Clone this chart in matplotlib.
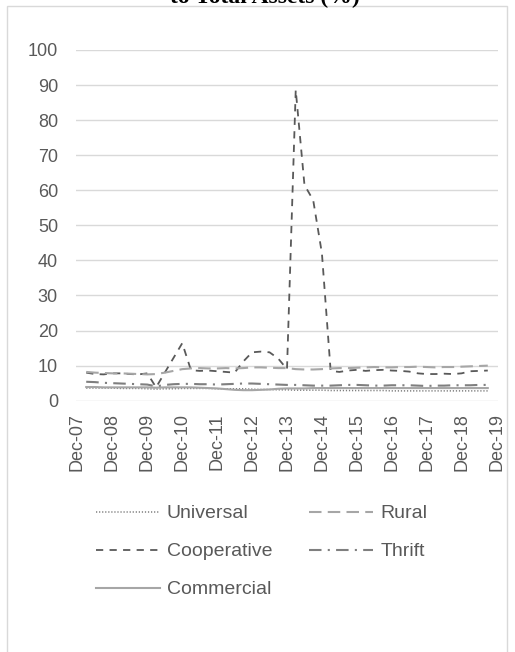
import matplotlib
matplotlib.use("Agg")
import matplotlib.pyplot as plt
from matplotlib.patches import Rectangle
import numpy as np

# Quarterly observations, Mar-08 .. Sep-19
quarters = [f"{m}-{y:02d}" for y in range(8, 20) for m in ("Mar", "Jun", "Sep", "Dec")][:47]

universal = [3.6, 3.6, 3.6, 3.6, 3.5, 3.5, 3.5, 3.4, 3.3, 3.4, 3.4, 3.5,
             3.5, 3.5, 3.5, 3.4, 3.4, 3.4, 3.4, 3.3, 3.2, 3.2, 3.1, 3.1,
             3.0, 3.0, 3.0, 3.0, 2.9, 2.9, 2.9, 2.9, 2.9, 2.9, 2.9, 2.8,
             2.8, 2.8, 2.8, 2.8, 2.8, 2.8, 2.8, 2.8, 2.8, 2.8, 2.8]
rural = [8.2, 8.0, 7.9, 7.8, 7.8, 7.7, 7.6, 7.5, 7.6, 8.0, 8.5, 9.0,
         9.2, 9.3, 9.2, 9.2, 9.3, 9.2, 9.3, 9.5, 9.5, 9.4, 9.3, 9.3,
         9.0, 8.9, 8.9, 9.0, 9.2, 9.3, 9.3, 9.4, 9.5, 9.6, 9.5, 9.5,
         9.6, 9.6, 9.7, 9.6, 9.5, 9.6, 9.6, 9.7, 9.8, 9.9, 10.0]
cooperative = [8.0, 7.6, 7.5, 7.8, 7.8, 7.6, 7.5, 7.8, 3.8, 8.0, 12.2, 16.4,
               8.7, 8.5, 8.6, 8.4, 8.2, 8.0, 11.2, 13.8, 14.0, 13.8, 12.0, 9.0,
               88.6, 61.5, 57.2, 42.0, 8.5, 8.2, 8.6, 8.8, 8.5, 8.7, 8.8, 8.6,
               8.5, 8.3, 7.8, 7.6, 7.6, 7.7, 7.6, 7.8, 8.4, 8.5, 8.6]
thrift = [5.4, 5.3, 5.1, 5.0, 4.9, 4.8, 4.7, 4.6, 4.1, 4.5, 4.7, 4.8,
          4.8, 4.7, 4.7, 4.6, 4.7, 4.8, 4.9, 4.9, 4.8, 4.7, 4.6, 4.5,
          4.5, 4.4, 4.3, 4.3, 4.3, 4.4, 4.5, 4.5, 4.4, 4.3, 4.3, 4.4,
          4.4, 4.4, 4.3, 4.2, 4.3, 4.3, 4.4, 4.4, 4.4, 4.5, 4.5]
commercial = [3.9, 3.9, 3.8, 3.8, 3.8, 3.8, 3.8, 3.8, 3.7, 3.8, 3.8, 3.8,
              3.8, 3.7, 3.6, 3.5, 3.3, 3.1, 3.0, 3.0, 3.1, 3.2, 3.4, 3.5,
              3.5, 3.5, 3.6, 3.6, 3.6, 3.6, 3.6, 3.6, 3.6, 3.6, 3.6, 3.6,
              3.6, 3.6, 3.6, 3.6, 3.6, 3.6, 3.6, 3.6, 3.6, 3.6, 3.6]

tick_labels = [f"Dec-{y:02d}" for y in range(7, 20)]
y_ticks = list(range(0, 101, 10))

FONT = ["Liberation Sans", "DejaVu Sans"]
plt.rcParams["font.family"] = FONT
TXT = "#595959"
GRID = "#d9d9d9"

W, H = 515, 652
fig = plt.figure(figsize=(W / 100, H / 100), dpi=100)

# outer chart frame
fig.add_artist(Rectangle((7 / W, -0.05), 500 / W, 1.05 - 6 / H,
                         transform=fig.transFigure, fill=False,
                         edgecolor=GRID, lw=1.0, clip_on=False))

fig.text(265 / W, 1 - 3 / H, "to Total Assets (%)", ha="center", va="baseline",
         family="Liberation Serif", weight="bold", fontsize=17, color="black")

left, right, top, bottom = 76, 498, 50, 400.7
ax = fig.add_axes([left / W, 1 - bottom / H, (right - left) / W, (bottom - top) / H])

x = np.arange(1, len(quarters) + 1)
ax.plot(x, universal, color="#7f7f7f", lw=1.1, linestyle=(0, (0.8, 1.2)),
        label="Universal")
ax.plot(x, cooperative, color="#595959", lw=1.3, linestyle=(0, (4, 3.5)),
        label="Cooperative")
ax.plot(x, commercial, color="#a6a6a6", lw=1.5, linestyle="-",
        label="Commercial")
ax.plot(x, rural, color="#a6a6a6", lw=1.5, linestyle=(0, (6, 3)),
        label="Rural")
ax.plot(x, thrift, color="#7f7f7f", lw=1.5, linestyle=(0, (6, 3, 1, 3)),
        label="Thrift")

ax.set_ylim(0, 100)
ax.set_yticks(y_ticks)
ax.set_xlim(-0.17, 48.17)
ax.set_xticks(np.arange(0, 49, 4))
ax.set_xticklabels(tick_labels, rotation=90)
ax.grid(axis="y", color=GRID, lw=1.0)
ax.set_axisbelow(True)
for s in ax.spines.values():
    s.set_visible(False)
ax.tick_params(axis="both", length=0, colors=TXT, labelsize=13)
ax.tick_params(axis="y", pad=13)
ax.tick_params(axis="x", pad=9)

leg = ax.legend(loc="upper left", bbox_to_anchor=(12 / (right - left), -0.2746),
                ncol=2, frameon=False, fontsize=14, labelcolor=TXT,
                handlelength=3.3, handletextpad=0.36, columnspacing=1.88,
                labelspacing=1.05, borderaxespad=0)

fig.savefig("out.png", dpi=100, facecolor="white")
